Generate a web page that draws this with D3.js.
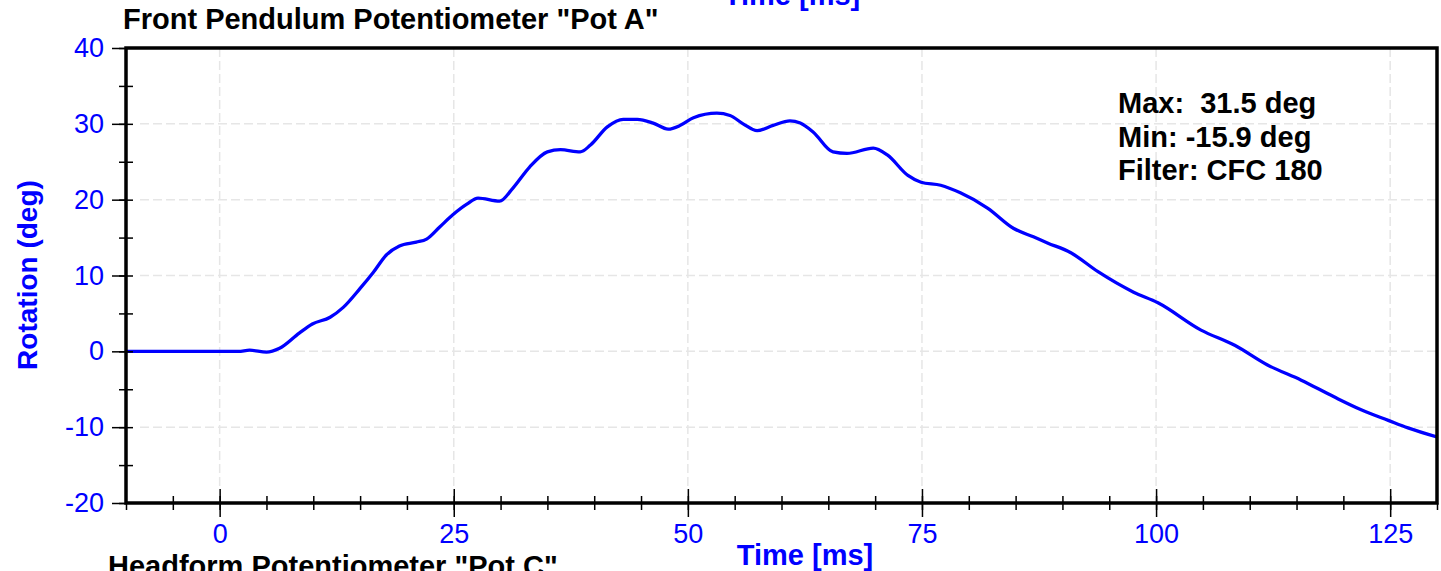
<!DOCTYPE html>
<html>
<head>
<meta charset="utf-8">
<script src="https://cdn.jsdelivr.net/npm/d3@7"></script>
<style>
  body { margin: 0; background: #fff; }
  text { font-family: "Liberation Sans", Arial, sans-serif; }
</style>
</head>
<body>
<div id="chart-area"></div>
<script>
// Pot A rotation trace
const time = [-10, -5, 0, 2, 3.2, 5, 6.4, 8.5, 9.9, 11.8, 13.2, 15, 16.4, 17.8, 19.2, 21, 22.1, 23.5, 24.9,
  26.4, 27.6, 29.9, 31.3, 33.1, 35, 36.4, 38.5, 39.6, 41.4, 43.1, 44.6, 46.3, 47.9, 49.2, 50.6, 53.1,
  54.5, 55.9, 57.4, 59.1, 60.9, 62, 63.4, 65.5, 67, 69.8, 71.3, 73.5, 74.9, 77, 79.1, 82, 84.8, 86.9,
  88.4, 90.9, 93.8, 97.6, 100.2, 104.8, 108.4, 111.9, 115.5, 119, 121.9, 124.8, 126.9, 130];
const rotation = [0, 0, 0, 0, 0.15, -0.1, 0.4, 2.4, 3.6, 4.5, 5.8, 8.3, 10.4, 12.7, 13.9, 14.4, 14.8, 16.4, 18.0,
  19.4, 20.2, 19.8, 21.5, 24.3, 26.3, 26.6, 26.3, 27.2, 29.6, 30.6, 30.6, 30.1, 29.3, 29.8, 30.8, 31.4,
  31.1, 30.0, 29.1, 29.8, 30.4, 30.1, 28.9, 26.3, 26.1, 26.8, 25.9, 23.2, 22.3, 21.9, 20.9, 18.9, 16.2, 15.1,
  14.3, 13.0, 10.5, 7.8, 6.4, 2.8, 0.8, -1.8, -3.8, -6.0, -7.7, -9.1, -10.1, -11.3];

const xMajor = [0, 25, 50, 75, 100, 125];
const xMinor = d3.range(-10, 131, 5);
const yMajor = [-20, -10, 0, 10, 20, 30, 40];
const yMinor = d3.range(-20, 41, 5);
const notes = ['Max:  31.5 deg', 'Min: -15.9 deg', 'Filter: CFC 180'];

const margin = { top: 48, right: 4, left: 126, bottom: 68 };
const W = 1441, H = 571;
const width = W - margin.left - margin.right;
const height = H - margin.top - margin.bottom;
const blue = '#0000ff';

const svg = d3.select('#chart-area').append('svg')
  .attr('width', W)
  .attr('height', H);

const g = svg.append('g')
  .attr('transform', `translate(${margin.left}, ${margin.top})`);

const x = d3.scaleLinear().domain([-10, 130]).range([0, width]);
const y = d3.scaleLinear().domain([-20, 40]).range([height, 0]);

// grid
g.append('g').selectAll('line.gx')
  .data(xMajor).enter().append('line')
  .attr('x1', d => x(d)).attr('x2', d => x(d))
  .attr('y1', 0).attr('y2', height - 14)
  .attr('stroke', '#e6e6e6').attr('stroke-width', 1.5)
  .attr('stroke-dasharray', '9,4');
g.append('g').selectAll('line.gy')
  .data(yMajor.filter(d => d > -20 && d < 40)).enter().append('line')
  .attr('x1', 14).attr('x2', width)
  .attr('y1', d => y(d)).attr('y2', d => y(d))
  .attr('stroke', '#e6e6e6').attr('stroke-width', 1.5)
  .attr('stroke-dasharray', '9,4');

// the trace
g.append('clipPath').attr('id', 'clip')
  .append('rect').attr('width', width).attr('height', height);

const line = d3.line()
  .x(d => x(d[0]))
  .y(d => y(d[1]))
  .curve(d3.curveMonotoneX);

g.append('path')
  .datum(d3.zip(time, rotation))
  .attr('clip-path', 'url(#clip)')
  .attr('fill', 'none')
  .attr('stroke', blue)
  .attr('stroke-width', 3.3)
  .attr('stroke-linejoin', 'round')
  .attr('d', line);

// axes
const styleAxis = sel => {
  sel.select('.domain').remove();
  sel.selectAll('line').attr('stroke', '#000').attr('stroke-width', 1.5);
};

g.append('g').attr('transform', `translate(0, ${height})`)
  .call(d3.axisBottom(x).tickValues(xMinor).tickSize(7).tickFormat(''))
  .call(styleAxis);
g.append('g').attr('transform', `translate(0, ${height})`)
  .call(d3.axisTop(x).tickValues(xMinor.filter(d => d > -10 && d < 130)).tickSize(7).tickFormat(''))
  .call(styleAxis);
g.append('g').attr('transform', `translate(0, ${height})`)
  .call(d3.axisBottom(x).tickValues(xMajor).tickSize(14).tickPadding(7).tickFormat(d => d))
  .call(styleAxis)
  .call(a => a.selectAll('text').attr('fill', blue).attr('font-size', '27px').attr('dy', '0.71em'));
g.append('g').attr('transform', `translate(0, ${height})`)
  .call(d3.axisTop(x).tickValues(xMajor).tickSize(14).tickFormat(''))
  .call(styleAxis);

g.append('g')
  .call(d3.axisLeft(y).tickValues(yMinor).tickSize(7).tickFormat(''))
  .call(styleAxis);
g.append('g')
  .call(d3.axisRight(y).tickValues(yMinor.filter(d => d > -20 && d < 40)).tickSize(7).tickFormat(''))
  .call(styleAxis);
g.append('g')
  .call(d3.axisLeft(y).tickValues(yMajor).tickSize(14).tickPadding(8).tickFormat(d => d))
  .call(styleAxis)
  .call(a => a.selectAll('text').attr('fill', blue).attr('font-size', '27px'));

// frame
g.append('rect')
  .attr('width', width).attr('height', height)
  .attr('fill', 'none').attr('stroke', '#000').attr('stroke-width', 3.5);

// labels
svg.append('text')
  .attr('x', 123).attr('y', 29)
  .attr('font-size', '29px').attr('font-weight', 'bold')
  .text('Front Pendulum Potentiometer "Pot A"');

svg.append('text')
  .attr('x', 792).attr('y', 5)
  .attr('text-anchor', 'middle')
  .attr('font-size', '29px').attr('font-weight', 'bold').attr('fill', blue)
  .text('Time [ms]');

svg.append('text')
  .attr('x', 805).attr('y', 565)
  .attr('text-anchor', 'middle')
  .attr('font-size', '29px').attr('font-weight', 'bold').attr('fill', blue)
  .text('Time [ms]');

svg.append('text')
  .attr('x', 108).attr('y', 576)
  .attr('font-size', '29px').attr('font-weight', 'bold')
  .text('Headform Potentiometer "Pot C"');

svg.append('text')
  .attr('transform', 'translate(37, 275) rotate(-90)')
  .attr('text-anchor', 'middle')
  .attr('font-size', '28px').attr('font-weight', 'bold').attr('fill', blue)
  .text('Rotation (deg)');

svg.append('g').selectAll('text')
  .data(notes).enter().append('text')
  .attr('x', 1118)
  .attr('y', (d, i) => 113 + i * 33.5)
  .attr('font-size', '29px').attr('font-weight', 'bold')
  .attr('xml:space', 'preserve')
  .style('white-space', 'pre')
  .text(d => d);
</script>
</body>
</html>
